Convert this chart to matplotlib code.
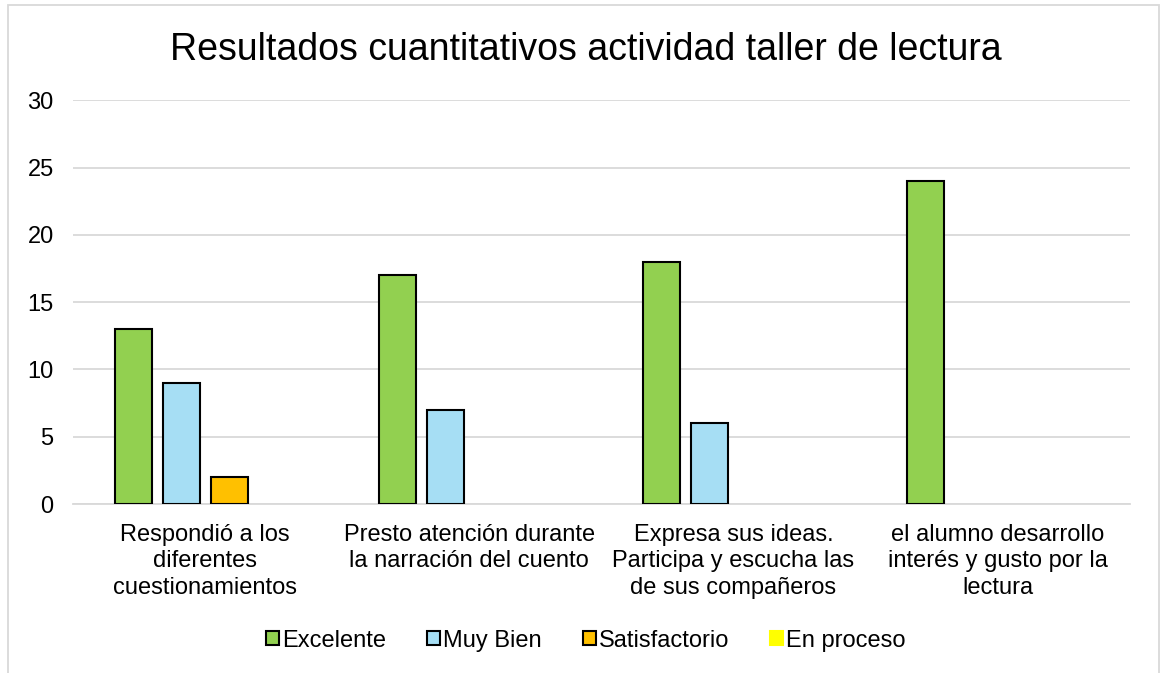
import matplotlib
matplotlib.use('Agg')
import matplotlib.pyplot as plt
from matplotlib.patches import Patch, Rectangle
import numpy as np

plt.rcParams['font.family'] = ['Liberation Sans', 'DejaVu Sans']

categories = [
    'Respondió a los\ndiferentes\ncuestionamientos',
    'Presto atención durante\nla narración del cuento',
    'Expresa sus ideas.\nParticipa y escucha las\nde sus compañeros',
    'el alumno desarrollo\ninterés y gusto por la\nlectura',
]
series_names = ['Excelente', 'Muy Bien', 'Satisfactorio', 'En proceso']
excelente = [13, 17, 18, 24]
muy_bien = [9, 7, 6, 0]
satisfactorio = [2, 0, 0, 0]
en_proceso = [0, 0, 0, 0]
colors = ['#92D050', '#A6DEF4', '#FFC000', '#FFFF00']

fig = plt.figure(figsize=(11.6, 6.73), dpi=100)
ax = fig.add_axes([0.063, 0.251, 0.911, 0.600])

x = np.arange(len(categories))
step = 0.182
width = 0.14
all_values = [excelente, muy_bien, satisfactorio, en_proceso]
for i, vals in enumerate(all_values):
    vals = np.array(vals)
    keep = vals > 0  # empty categories get no bar at all
    offs = (i - 1.5) * step
    ax.bar(x[keep] + offs, vals[keep], width, color=colors[i], edgecolor='black',
           linewidth=1.5, zorder=3)

ax.set_xlim(-0.5, len(categories) - 0.5)
ax.set_ylim(0, 30)
ax.set_yticks(range(0, 31, 5))
ax.set_xticks(x)
ax.set_xticklabels(categories, fontsize=17, linespacing=1.27)
ax.tick_params(axis='y', labelsize=17, length=0, pad=14)
ax.tick_params(axis='x', length=0, pad=14)
ax.grid(axis='y', color='#D9D9D9', linewidth=1.3, zorder=0)
for s in ['top', 'right', 'left']:
    ax.spines[s].set_visible(False)
ax.spines['bottom'].set_color('#D9D9D9')
ax.spines['bottom'].set_linewidth(1.3)

fig.text(0.505, 0.925, 'Resultados cuantitativos actividad taller de lectura',
         ha='center', va='center', fontsize=27)

handles = []
for i, name in enumerate(series_names):
    ec = 'black' if i < 3 else colors[i]
    handles.append(Patch(facecolor=colors[i], edgecolor=ec, linewidth=1.5, label=name))
fig.legend(handles=handles, loc='center', bbox_to_anchor=(0.505, 0.048), ncol=4,
           frameon=False, fontsize=17, handlelength=0.55, handleheight=0.55,
           handletextpad=0.12, columnspacing=1.75)

fig.patches.append(Rectangle((8 / 1160, -0.1), (1159 - 8) / 1160, 1.1 - 5 / 673,
                             transform=fig.transFigure, fill=False,
                             edgecolor='#D9D9D9', linewidth=1.3, clip_on=False))

fig.savefig('out.png', dpi=100)
